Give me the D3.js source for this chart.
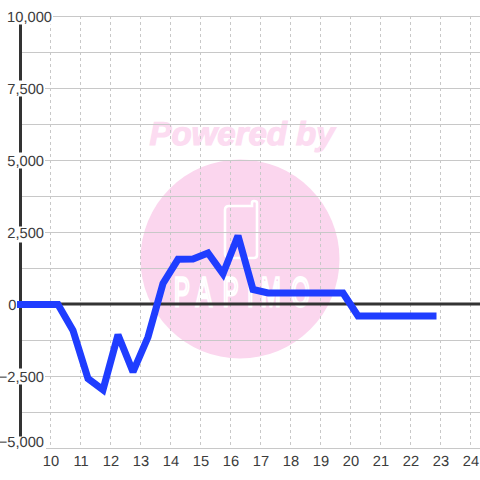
<!DOCTYPE html>
<html><head><meta charset="utf-8">
<script src="https://cdn.jsdelivr.net/npm/d3@7/dist/d3.min.js"></script>
<style>html,body{margin:0;padding:0;background:#fff}svg{display:block}text{font-family:"Liberation Sans",Arial,sans-serif;text-rendering:geometricPrecision}</style>
</head><body><svg id="c" width="480" height="480"></svg>
<script>
const hours=[8.75,9.25,9.75,10.25,10.75,11.25,11.75,12.25,12.75,13.25,13.75,14.25,14.75,15.25,15.75,16.25,16.75,17.25,17.75,18.25,18.75,19.25,19.75,20.25,20.75,21.25,21.75,22.25,22.75];
const values=[0,0,0,0,-900,-2570,-2960,-1050,-2340,-1130,730,1570,1580,1790,1070,2390,520,400,400,400,400,400,400,-400,-400,-400,-400,-400,-400];
const xTicks=[10,11,12,13,14,15,16,17,18,19,20,21,22,23,24];
const yLabelled=[10000,7500,5000,2500,0,-2500,-5000];
const yMinor=[8750,6250,3750,1250,-1250,-3750];
const x=d3.scaleLinear().domain([10,24]).range([50.5,470.5]);
const y=d3.scaleLinear().domain([10000,-5000]).range([16.5,448.5]);
const svg=d3.select("#c");
const fmt=d3.format(",");
const labelEnd=v=>v===10000?52:v===0?16.5:44;
const labelY=v=>v===-5000?y(v)-7:y(v);

svg.append("defs").append("clipPath").attr("id","plot").append("rect").attr("x",17).attr("y",0).attr("width",463).attr("height",480);

// watermark
svg.append("circle").attr("cx",240).attr("cy",259).attr("r",99.5).attr("fill","#fbd6ee");
svg.append("text").text("Powered by").attr("x",242).attr("y",145).attr("text-anchor","middle")
  .attr("font-size",33).attr("font-weight","bold").attr("font-style","italic").attr("fill","#fcdcf1")
  .attr("stroke","#fcdcf1").attr("stroke-width",1.2);
svg.append("path").attr("d","M229 206H252V203Q252 201 254 201Q257 201 257 203V255Q257 258 254 258H231Q225 258 225 254V210Q225 206 229 206Z")
  .attr("fill","none").attr("stroke","#fff").attr("stroke-width",2.6);
svg.append("text").text("PAPIMO").attr("transform","translate(0,306) scale(.58,1)")
  .attr("x","300 338 384 426 450 502").attr("font-size",41)
  .attr("fill","none").attr("stroke","#fff").attr("stroke-width",3).style("vector-effect","non-scaling-stroke");

// grid
svg.selectAll(".v").data(xTicks).join("line").attr("x1",d=>x(d)).attr("x2",d=>x(d)).attr("y1",16).attr("y2",448)
  .attr("stroke","#c8c8c8").attr("stroke-width",1).attr("stroke-dasharray","3 3");
svg.selectAll(".h").data(yLabelled.concat(yMinor).filter(d=>d!==0)).join("line").attr("x1",20).attr("x2",480)
  .attr("y1",d=>y(d)).attr("y2",d=>y(d)).attr("stroke","#c8c8c8").attr("stroke-width",1.2);

// axes
svg.append("line").attr("x1",20.5).attr("x2",20.5).attr("y1",16).attr("y2",448).attr("stroke","#333").attr("stroke-width",3);
svg.append("line").attr("x1",17).attr("x2",480).attr("y1",y(0)-.5).attr("y2",y(0)-.5).attr("stroke","#333").attr("stroke-width",3);

// y labels with white backing
const yl=svg.selectAll(".yl").data(yLabelled).join("g");
yl.append("rect").attr("x",d=>d===0?6:0).attr("y",d=>labelY(d)-(d===2500?6:d===-5000?5:8)).attr("width",d=>d===10000?53:d===0?11:d===-5000?46:45)
  .attr("height",d=>d===-5000?18:16).attr("fill","#fff");
yl.append("text").text(d=>fmt(d)).attr("x",labelEnd).attr("y",d=>labelY(d)+5.5).attr("text-anchor","end")
  .attr("font-size",14.7).attr("fill","#3c3c3c");

// x labels
svg.selectAll(".xl").data(xTicks).join("text").text(d=>d).attr("x",d=>x(d)+.5).attr("y",466).attr("text-anchor","middle")
  .attr("font-size",14.7).attr("fill","#3c3c3c");

// series
const line=d3.line().x((d,i)=>x(hours[i])).y(d=>y(d));
svg.append("path").attr("d",line(values)).attr("fill","none").attr("stroke","#1f3dff").attr("stroke-width",7)
  .attr("stroke-linejoin","miter").attr("stroke-miterlimit",2.5).attr("stroke-linecap","square").attr("clip-path","url(#plot)");
</script></body></html>
